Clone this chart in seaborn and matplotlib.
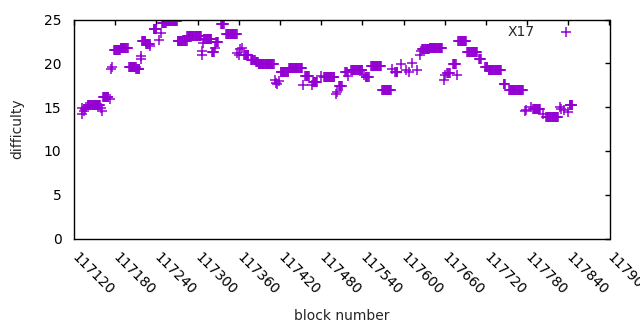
import numpy as np
import pandas as pd
import matplotlib
matplotlib.use("Agg")
import matplotlib.pyplot as plt
import seaborn as sns

# Runs of constant difficulty: (first block, last block, value)
run_start = [117131, 117132, 117134, 117136, 117138, 117140, 117160, 117161, 117162, 117172,
             117174, 117176, 117178, 117188, 117200, 117211, 117217, 117218, 117219, 117225,
             117231, 117236, 117244, 117246, 117248, 117255, 117271, 117285, 117306, 117307,
             117308, 117309, 117321, 117326, 117327, 117334, 117342, 117358, 117360, 117362,
             117365, 117368, 117378, 117385, 117389, 117413, 117414, 117416, 117418, 117421,
             117433, 117454, 117457, 117466, 117468, 117480, 117484, 117501, 117503, 117506,
             117515, 117519, 117524, 117542, 117545, 117553, 117569, 117583, 117588, 117596,
             117603, 117608, 117613, 117619, 117624, 117626, 117627, 117638, 117659, 117660,
             117664, 117672, 117678, 117680, 117693, 117710, 117719, 117724, 117746, 117754,
             117777, 117779, 117785, 117789, 117803, 117808, 117828, 117830, 117834, 117839,
             117842]
run_end = [117131, 117132, 117134, 117136, 117138, 117158, 117160, 117161, 117170, 117172,
           117174, 117176, 117187, 117198, 117210, 117215, 117217, 117218, 117224, 117230,
           117231, 117240, 117244, 117246, 117254, 117270, 117284, 117305, 117306, 117307,
           117308, 117320, 117324, 117326, 117330, 117338, 117357, 117358, 117360, 117362,
           117365, 117374, 117383, 117388, 117411, 117413, 117414, 117416, 117418, 117432,
           117452, 117454, 117462, 117466, 117474, 117480, 117499, 117501, 117503, 117510,
           117517, 117519, 117540, 117542, 117549, 117567, 117582, 117583, 117591, 117596,
           117603, 117608, 117613, 117619, 117624, 117626, 117637, 117656, 117659, 117660,
           117667, 117676, 117678, 117691, 117707, 117713, 117722, 117742, 117748, 117774,
           117777, 117779, 117785, 117799, 117803, 117825, 117828, 117830, 117834, 117839,
           117846]
run_value = [14.9, 14.2, 14.5, 14.8, 15.0, 15.2, 14.9, 14.6, 16.2, 15.9,
             19.3, 19.6, 21.5, 21.8, 19.6, 19.4, 20.5, 20.8, 22.5, 22.2,
             22.0, 23.9, 22.7, 23.5, 24.6, 24.8, 22.5, 23.1, 21.0, 21.4,
             22.3, 22.8, 21.3, 21.8, 22.4, 24.5, 23.4, 21.2, 20.9, 21.6,
             21.7, 21.0, 20.4, 20.1, 19.9, 18.1, 17.8, 17.6, 18.0, 19.0,
             19.5, 17.5, 18.5, 17.5, 17.9, 18.6, 18.4, 16.5, 16.7, 17.4,
             19.0, 18.5, 19.2, 18.7, 18.4, 19.7, 16.9, 19.4, 19.0, 19.9,
             19.2, 19.0, 20.0, 19.2, 21.0, 21.4, 21.6, 21.7, 18.1, 18.7,
             18.9, 19.9, 18.7, 22.6, 21.3, 20.5, 19.6, 19.2, 17.6, 16.9,
             14.5, 14.7, 15.0, 14.8, 14.2, 13.9, 15.0, 14.8, 14.7, 14.4,
             15.2]

x_ticks = list(range(117120, 117901, 60))
x_tick_labels = [str(t) for t in x_ticks]
y_ticks = [0, 5, 10, 15, 20, 25]

blocks = []
diffs = []
for s, e, v in zip(run_start, run_end, run_value):
    for b in range(s, e + 1):
        blocks.append(b)
        diffs.append(v)
df = pd.DataFrame({"block": blocks, "difficulty": diffs})

sns.set_style("white")
plt.rcParams["font.family"] = ["DejaVu Sans"]
plt.rcParams["font.size"] = 10

fig = plt.figure(figsize=(6.4, 3.3), dpi=100)
ax = fig.add_axes([74 / 640, 1 - 238.5 / 330, 535.5 / 640, 219 / 330])

sns.scatterplot(data=df, x="block", y="difficulty", marker="+", s=42,
                color="#9400D3", linewidth=1.1, ax=ax, label="X17")

ax.set_xlim(117120, 117900)
ax.set_ylim(0, 25)
ax.set_xticks(x_ticks)
ax.set_xticklabels(x_tick_labels, rotation=-45, ha="left", va="center",
                   rotation_mode="anchor")
ax.set_yticks(y_ticks)
ax.tick_params(direction="in", length=3.5, width=1, top=True, right=True,
               colors="black", labelsize=10)
ax.tick_params(axis="x", pad=12)
ax.tick_params(axis="y", pad=9)
for sp in ax.spines.values():
    sp.set_visible(True)
    sp.set_color("black")
    sp.set_linewidth(1)
ax.set_xlabel("block number", fontsize=10, labelpad=8)
ax.set_ylabel("difficulty", fontsize=10, labelpad=14)

leg = ax.legend(loc="upper right", bbox_to_anchor=(0.951, 0.976), frameon=False,
                markerfirst=False, handlelength=2.5, handletextpad=1.0,
                borderaxespad=0, borderpad=0, fontsize=10)

fig.savefig("out.png", dpi=100)
